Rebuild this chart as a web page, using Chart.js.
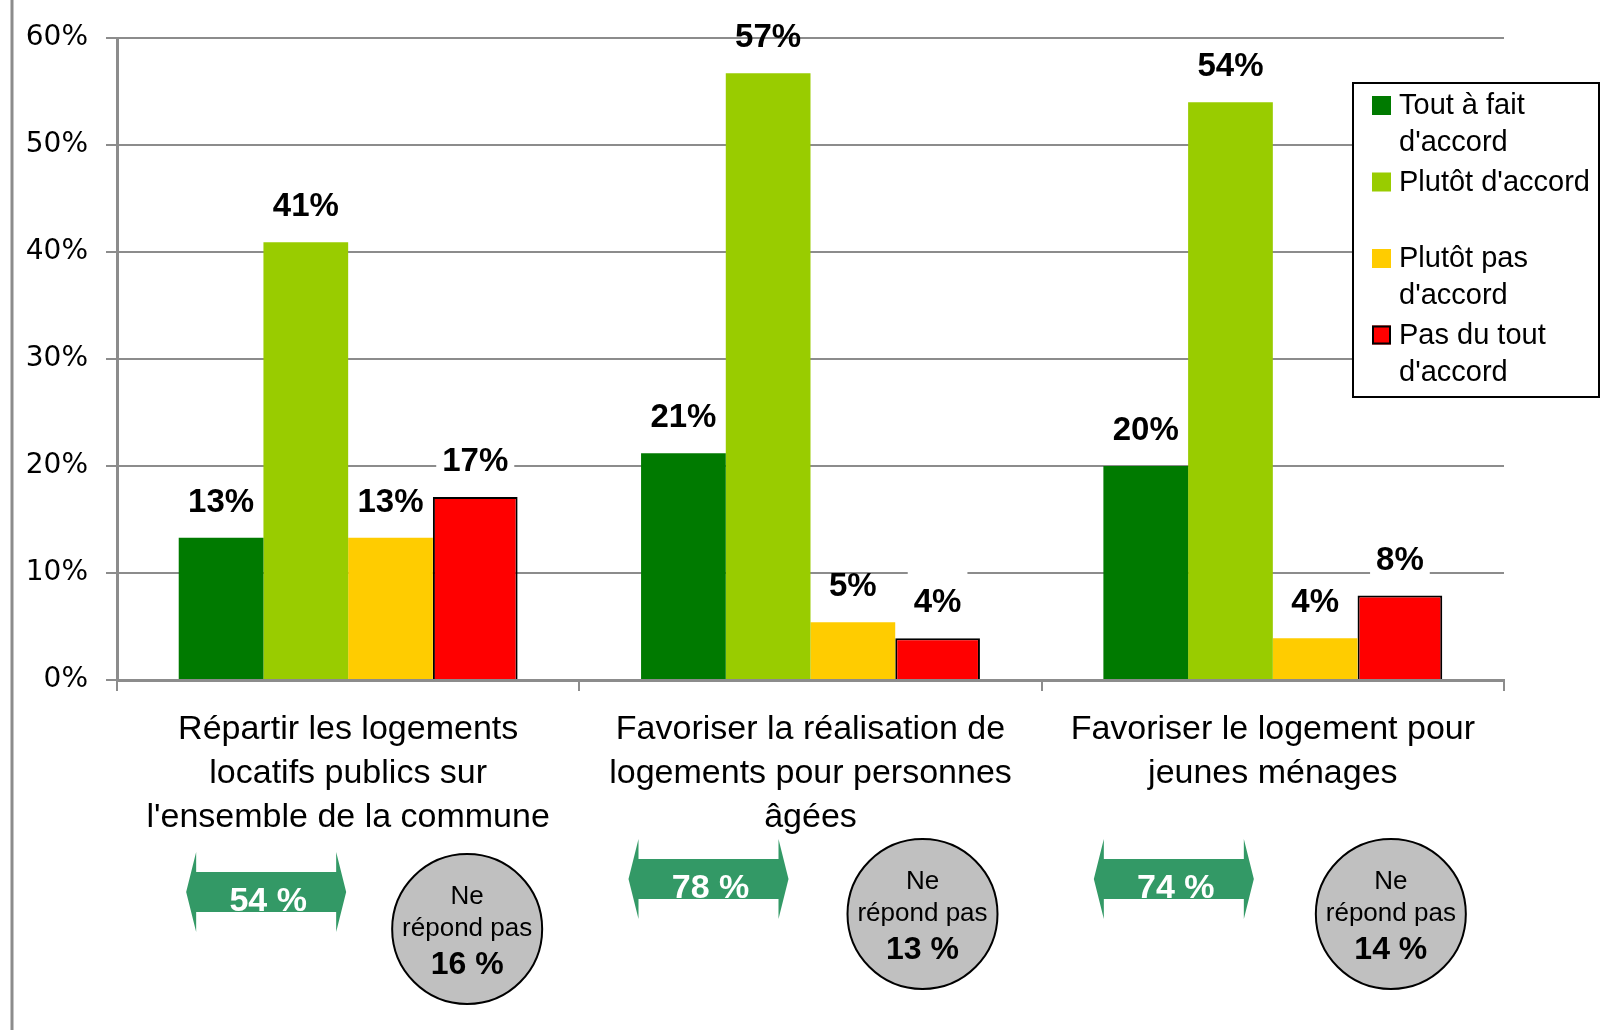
<!DOCTYPE html>
<html>
<head>
<meta charset="utf-8">
<script src="https://cdn.jsdelivr.net/npm/chart.js@4/dist/chart.umd.min.js"></script>
<style>
  html, body { margin: 0; padding: 0; background: #fff; }
  #wrap { width: 1614px; height: 1030px; }
</style>
</head>
<body>
<div id="wrap"><canvas id="chart" width="1614" height="1030"></canvas></div>
<script>
// categories (multi-line labels under the axis)
const categories = [
  ['Répartir les logements', 'locatifs publics sur', "l'ensemble de la commune"],
  ['Favoriser la réalisation de', 'logements pour personnes', 'âgées'],
  ['Favoriser le logement pour', 'jeunes ménages']
];

// series (legend text, split in lines)
const seriesLines = [
  ['Tout à fait', "d'accord"],
  ["Plutôt d'accord"],
  ['Plutôt pas', "d'accord"],
  ['Pas du tout', "d'accord"]
];

// values, in %
const toutAFait = [13.3, 21.2, 20.0];
const plutotAccord = [40.9, 56.7, 54.0];
const plutotPas = [13.3, 5.4, 3.9];
const pasDuTout = [17.1, 3.9, 7.9];

// totals shown under each group
const totalAccord = [54, 78, 74];
const neRepondPas = [16, 13, 14];

const yTicks = [0, 10, 20, 30, 40, 50, 60];

const colors = ['#007a00', '#99cc00', '#ffcc00', '#ff0000'];
const grey = '#8c8c8c';
const sans = '"Liberation Sans", Arial, sans-serif';

const frameLine = {
  id: 'frameLine',
  beforeDraw(chart) {
    const ctx = chart.ctx;
    ctx.save();
    ctx.fillStyle = '#fff';
    ctx.fillRect(0, 0, chart.width, chart.height);
    ctx.strokeStyle = grey;
    ctx.lineWidth = 3;
    ctx.beginPath();
    ctx.moveTo(12, 0);
    ctx.lineTo(12, chart.height);
    ctx.stroke();
    ctx.restore();
  }
};

const barLabels = {
  id: 'barLabels',
  afterDatasetsDraw(chart) {
    const ctx = chart.ctx;
    ctx.save();
    ctx.font = 'bold 33px ' + sans;
    ctx.textAlign = 'center';
    ctx.textBaseline = 'middle';
    chart.data.datasets.forEach((ds, di) => {
      chart.getDatasetMeta(di).data.forEach((bar, i) => {
        const txt = Math.round(ds.data[i]) + '%';
        if (ds.labelBox) {
          const w = ctx.measureText(txt).width;
          ctx.fillStyle = '#fff';
          ctx.fillRect(bar.x - w / 2 - 6, bar.y - 69, w + 12, 52);
        }
        ctx.fillStyle = '#000';
        ctx.fillText(txt, bar.x, bar.y - 35);
      });
    });
    ctx.restore();
  }
};

const boxLegend = {
  id: 'boxLegend',
  afterDraw(chart) {
    const ctx = chart.ctx;
    const x = 1353, y = 83, w = 246, h = 314;
    ctx.save();
    ctx.fillStyle = '#fff';
    ctx.fillRect(x, y, w, h);
    ctx.strokeStyle = '#000';
    ctx.lineWidth = 2;
    ctx.strokeRect(x, y, w, h);
    ctx.font = '29px ' + sans;
    ctx.textBaseline = 'middle';
    ctx.textAlign = 'left';
    chart.data.datasets.forEach((ds, i) => {
      const top = 105 + i * 76.5;
      ctx.fillStyle = ds.backgroundColor;
      ctx.fillRect(1372, top - 9, 19, 19);
      if (ds.borderWidth) {
        ctx.strokeStyle = '#000';
        ctx.lineWidth = 2;
        ctx.strokeRect(1373, top - 8, 17, 17);
      }
      ctx.fillStyle = '#000';
      seriesLines[i].forEach((line, k) => ctx.fillText(line, 1399, top + 1 + k * 37));
    });
    ctx.restore();
  }
};

const groupNotes = {
  id: 'groupNotes',
  afterDraw(chart) {
    const ctx = chart.ctx;
    const xs = chart.scales.x;
    const arrowDx = [-82, -102, -99];
    const arrowY = [892, 879, 879];
    const circleDx = [119, 112, 118];
    const circleY = [929, 914, 914];
    ctx.save();
    totalAccord.forEach((v, i) => {
      const cx = xs.getPixelForValue(i) + arrowDx[i];
      const cy = arrowY[i];
      const half = 80, head = 10;
      ctx.fillStyle = '#339966';
      ctx.beginPath();
      ctx.moveTo(cx - half, cy);
      ctx.lineTo(cx - half + head, cy - 40);
      ctx.lineTo(cx - half + head, cy - 20);
      ctx.lineTo(cx + half - head, cy - 20);
      ctx.lineTo(cx + half - head, cy - 40);
      ctx.lineTo(cx + half, cy);
      ctx.lineTo(cx + half - head, cy + 40);
      ctx.lineTo(cx + half - head, cy + 20);
      ctx.lineTo(cx - half + head, cy + 20);
      ctx.lineTo(cx - half + head, cy + 40);
      ctx.closePath();
      ctx.fill();
      ctx.fillStyle = '#fff';
      ctx.font = 'bold 34px ' + sans;
      ctx.textAlign = 'center';
      ctx.textBaseline = 'alphabetic';
      ctx.fillText(v + ' %', cx + 2, cy + 19);
    });
    neRepondPas.forEach((v, i) => {
      const cx = xs.getPixelForValue(i) + circleDx[i];
      const cy = circleY[i];
      ctx.beginPath();
      ctx.arc(cx, cy, 75, 0, Math.PI * 2);
      ctx.fillStyle = '#c0c0c0';
      ctx.fill();
      ctx.strokeStyle = '#000';
      ctx.lineWidth = 2;
      ctx.stroke();
      ctx.fillStyle = '#000';
      ctx.textAlign = 'center';
      ctx.textBaseline = 'middle';
      ctx.font = '26px ' + sans;
      ctx.fillText('Ne', cx, cy - 32);
      ctx.fillText('répond pas', cx, cy);
      ctx.font = 'bold 32px ' + sans;
      ctx.fillText(v + ' %', cx, cy + 36);
    });
    ctx.restore();
  }
};

const seriesData = [toutAFait, plutotAccord, plutotPas, pasDuTout];

new Chart(document.getElementById('chart'), {
  type: 'bar',
  data: {
    labels: categories,
    datasets: seriesData.map((d, i) => ({
      label: seriesLines[i].join(' '),
      data: d,
      backgroundColor: colors[i],
      borderColor: '#000',
      borderWidth: i === 3 ? 2 : 0,
      labelBox: i === 3,
      categoryPercentage: 0.733,
      barPercentage: 1
    }))
  },
  options: {
    responsive: false,
    devicePixelRatio: 1,
    animation: false,
    layout: { padding: { top: 38, right: 110, bottom: 0, left: 0 } },
    plugins: {
      legend: { display: false },
      tooltip: { enabled: false }
    },
    scales: {
      x: {
        afterFit(scale) { scale.height = 350; },
        border: { color: grey, width: 3 },
        grid: { drawOnChartArea: false, color: grey, lineWidth: 2, tickLength: 11, offset: true },
        ticks: {
          padding: 17,
          color: '#000',
          maxRotation: 0,
          autoSkip: false,
          font: { family: '"Liberation Sans", Arial, sans-serif', size: 34, lineHeight: '44px' }
        }
      },
      y: {
        min: 0,
        max: 60,
        afterBuildTicks(scale) { scale.ticks = yTicks.map(v => ({ value: v })); },
        afterFit(scale) { scale.width = 117; },
        border: { color: grey, width: 3 },
        grid: { color: grey, lineWidth: 2, tickLength: 11 },
        ticks: {
          padding: 18,
          color: '#000',
          font: { family: '"DejaVu Sans", Verdana, sans-serif', size: 28 },
          callback: v => v + '%'
        }
      }
    }
  },
  plugins: [frameLine, barLabels, boxLegend, groupNotes]
});
</script>
</body>
</html>
